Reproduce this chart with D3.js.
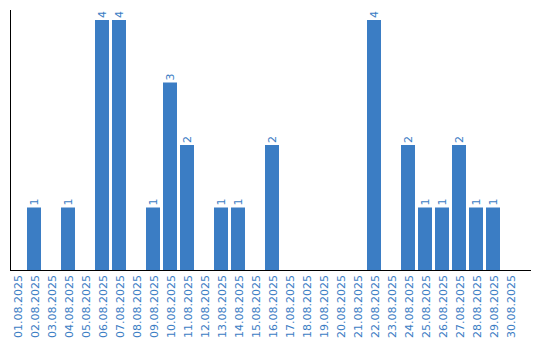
<!DOCTYPE html>
<html lang="en">
<head>
    <meta charset="UTF-8">
    <title>Daily counts</title>
    <script src="https://d3js.org/d3.v7.min.js"></script>
    <style>
        body { margin: 0; background: #fff; }
        text { font-family: "DejaVu Sans", sans-serif; }
    </style>
</head>
<body>
    <div id="chart"></div>

    <script>
        const dates = d3.range(1, 31).map(d => String(d).padStart(2, "0") + ".08.2025");
        const counts = [0, 1, 0, 1, 0, 4, 4, 0, 1, 3,
                        2, 0, 1, 1, 0, 2, 0, 0, 0, 0,
                        0, 4, 0, 2, 1, 1, 2, 1, 1, 0];

        const width = 540;
        const height = 340;
        const color = "#3b7dc4";

        const svg = d3.select("#chart").append("svg")
            .attr("width", width)
            .attr("height", height);

        const x = d3.scaleBand()
            .domain(dates)
            .range([10, 517])
            .paddingInner(3 / 17)
            .paddingOuter(0);

        const y = d3.scaleLinear()
            .domain([0, 4])
            .range([270, 20]);

        const data = dates.map((d, i) => ({ date: d, value: counts[i] }));

        svg.append("g")
            .selectAll("rect")
            .data(data.filter(d => d.value > 0))
            .enter().append("rect")
            .attr("x", d => x(d.date))
            .attr("y", d => y(d.value))
            .attr("width", x.bandwidth())
            .attr("height", d => y(0) - y(d.value))
            .attr("fill", color);

        // value labels, rotated
        svg.append("g")
            .selectAll("text")
            .data(data.filter(d => d.value > 0))
            .enter().append("text")
            .attr("transform", d => `translate(${x(d.date) + x.bandwidth() / 2 + 4},${y(d.value) - 2}) rotate(-90)`)
            .attr("fill", color)
            .attr("font-size", "11px")
            .text(d => d.value);

        // axes lines
        svg.append("line")
            .attr("x1", 10.5).attr("x2", 10.5)
            .attr("y1", 10).attr("y2", 270)
            .attr("stroke", "black");
        svg.append("line")
            .attr("x1", 10).attr("x2", 531)
            .attr("y1", 270.5).attr("y2", 270.5)
            .attr("stroke", "black");

        // date labels
        svg.append("g")
            .selectAll("text")
            .data(dates)
            .enter().append("text")
            .attr("transform", d => `translate(${x(d) + x.bandwidth() / 2 + 5},275) rotate(-90)`)
            .attr("text-anchor", "end")
            .attr("fill", color)
            .attr("font-size", "11px")
            .text(d => d);
    </script>
</body>
</html>
